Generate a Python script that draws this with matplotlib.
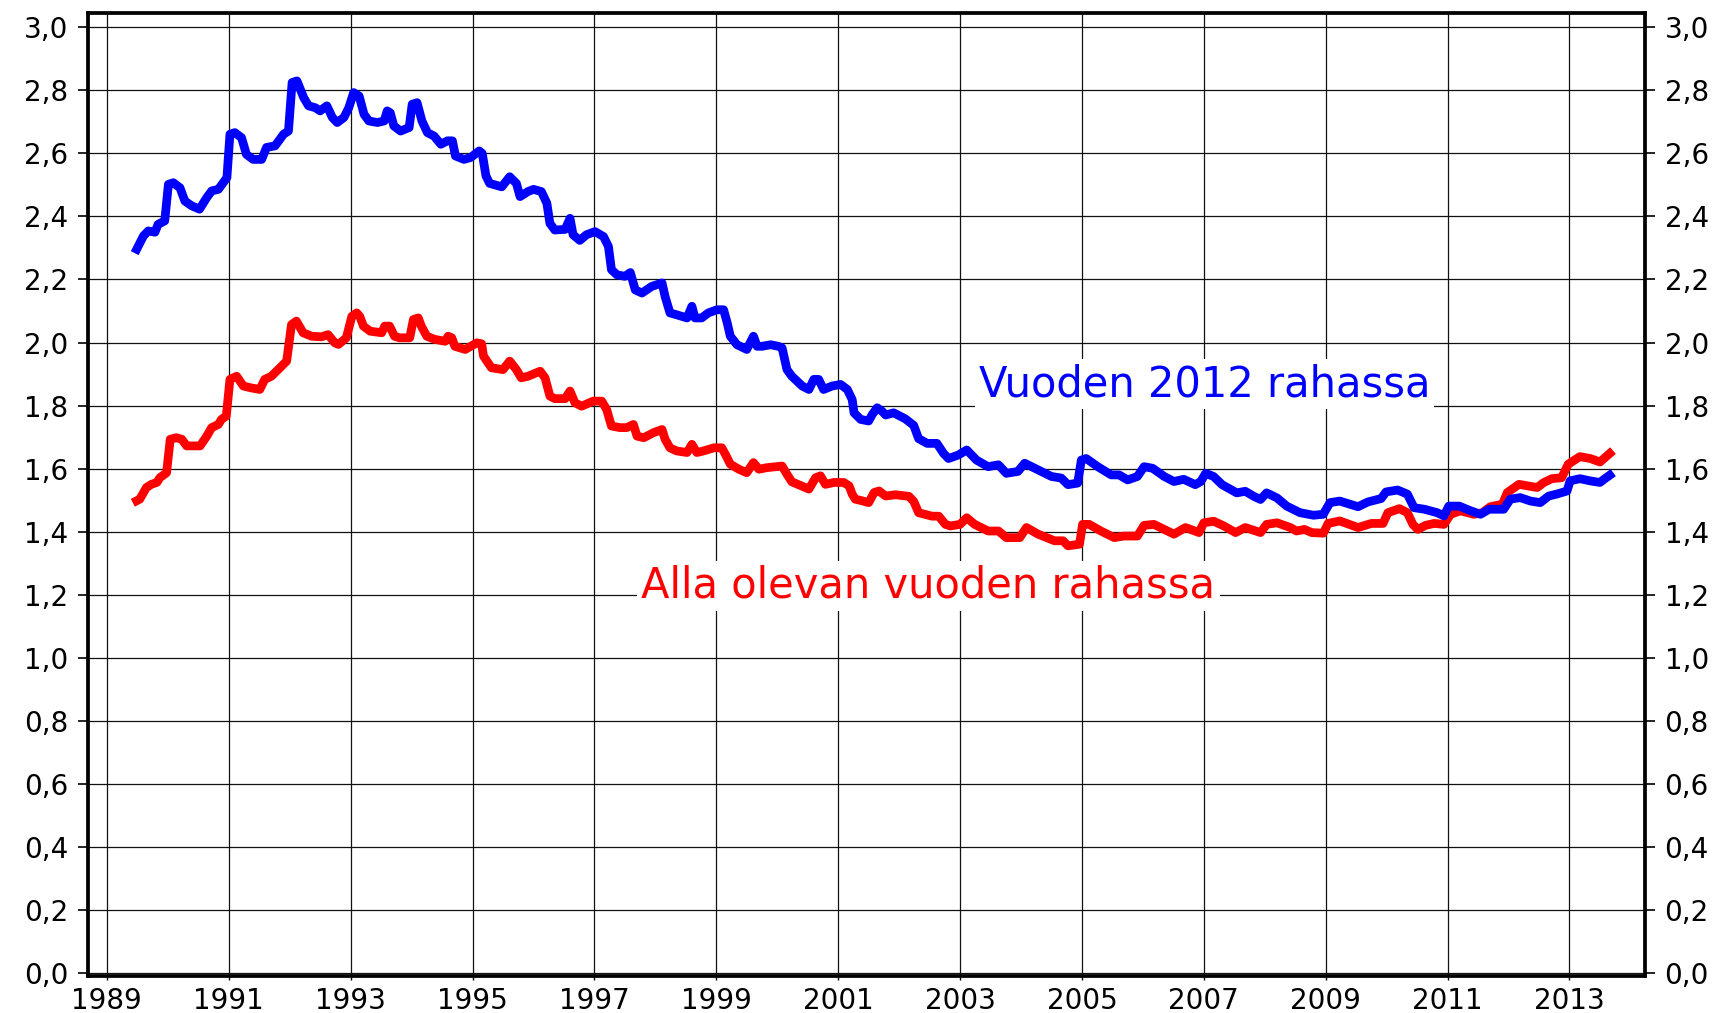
import matplotlib
matplotlib.use('Agg')
import matplotlib.pyplot as plt
from matplotlib.ticker import FuncFormatter, MultipleLocator

# (year, value)
blue_years = [1989.49, 1989.60, 1989.68, 1989.79, 1989.84, 1989.95, 1990.01, 1990.09, 1990.20, 1990.28,
              1990.39, 1990.52, 1990.64, 1990.72, 1990.83, 1990.97, 1991.02, 1991.10, 1991.21, 1991.29,
              1991.40, 1991.54, 1991.62, 1991.76, 1991.90, 1991.98, 1992.04, 1992.12, 1992.23, 1992.31,
              1992.42, 1992.50, 1992.61, 1992.70, 1992.78, 1992.89, 1992.97, 1993.05, 1993.14, 1993.22,
              1993.30, 1993.44, 1993.55, 1993.60, 1993.65, 1993.71, 1993.82, 1993.96, 1994.01, 1994.09,
              1994.17, 1994.26, 1994.37, 1994.48, 1994.59, 1994.67, 1994.72, 1994.86, 1994.97, 1995.11,
              1995.16, 1995.22, 1995.28, 1995.48, 1995.61, 1995.72, 1995.78, 1995.91, 1996.00, 1996.13,
              1996.22, 1996.27, 1996.35, 1996.52, 1996.60, 1996.65, 1996.76, 1996.87, 1997.01, 1997.15,
              1997.23, 1997.28, 1997.37, 1997.50, 1997.59, 1997.67, 1997.78, 1997.94, 1998.11, 1998.16,
              1998.24, 1998.35, 1998.52, 1998.60, 1998.65, 1998.76, 1998.87, 1999.01, 1999.12, 1999.18,
              1999.23, 1999.34, 1999.50, 1999.61, 1999.67, 1999.75, 1999.89, 2000.02, 2000.08, 2000.16,
              2000.24, 2000.41, 2000.52, 2000.60, 2000.68, 2000.76, 2000.90, 2001.04, 2001.15, 2001.23,
              2001.26, 2001.37, 2001.50, 2001.56, 2001.64, 2001.72, 2001.78, 2001.91, 2002.10, 2002.24,
              2002.32, 2002.46, 2002.62, 2002.73, 2002.81, 2002.97, 2003.11, 2003.27, 2003.46, 2003.63,
              2003.76, 2003.95, 2004.06, 2004.28, 2004.50, 2004.66, 2004.77, 2004.93, 2004.99, 2005.07,
              2005.26, 2005.48, 2005.61, 2005.75, 2005.91, 2006.02, 2006.16, 2006.35, 2006.51, 2006.67,
              2006.86, 2006.95, 2007.03, 2007.16, 2007.30, 2007.54, 2007.68, 2007.82, 2007.93, 2008.03,
              2008.20, 2008.36, 2008.58, 2008.80, 2008.96, 2009.07, 2009.23, 2009.53, 2009.69, 2009.91,
              2009.99, 2010.18, 2010.34, 2010.45, 2010.62, 2010.83, 2010.94, 2011.02, 2011.19, 2011.38,
              2011.54, 2011.68, 2011.92, 2012.03, 2012.19, 2012.36, 2012.52, 2012.66, 2012.79, 2012.96,
              2013.01, 2013.17, 2013.34, 2013.50, 2013.58, 2013.66]
blue_vals = [2.296, 2.338, 2.354, 2.350, 2.375, 2.386, 2.502, 2.507, 2.491, 2.449,
             2.434, 2.423, 2.460, 2.481, 2.486, 2.523, 2.661, 2.666, 2.650, 2.597,
             2.581, 2.581, 2.619, 2.624, 2.661, 2.671, 2.825, 2.830, 2.777, 2.751,
             2.745, 2.735, 2.751, 2.714, 2.698, 2.714, 2.745, 2.793, 2.782, 2.724,
             2.703, 2.698, 2.703, 2.735, 2.729, 2.687, 2.671, 2.682, 2.756, 2.761,
             2.703, 2.666, 2.655, 2.629, 2.640, 2.640, 2.592, 2.581, 2.587, 2.608,
             2.600, 2.529, 2.505, 2.494, 2.526, 2.505, 2.463, 2.479, 2.486, 2.479,
             2.442, 2.378, 2.357, 2.359, 2.394, 2.342, 2.324, 2.342, 2.352, 2.336,
             2.305, 2.231, 2.215, 2.210, 2.222, 2.167, 2.157, 2.178, 2.189, 2.146,
             2.094, 2.088, 2.078, 2.115, 2.078, 2.078, 2.094, 2.104, 2.104, 2.062,
             2.020, 1.993, 1.978, 2.020, 1.988, 1.988, 1.993, 1.988, 1.983, 1.914,
             1.893, 1.862, 1.851, 1.883, 1.883, 1.851, 1.862, 1.867, 1.851, 1.819,
             1.777, 1.756, 1.751, 1.772, 1.793, 1.782, 1.770, 1.777, 1.758, 1.737,
             1.695, 1.680, 1.680, 1.648, 1.632, 1.643, 1.659, 1.627, 1.606, 1.612,
             1.585, 1.591, 1.617, 1.596, 1.575, 1.570, 1.549, 1.554, 1.627, 1.632,
             1.606, 1.580, 1.580, 1.564, 1.575, 1.606, 1.601, 1.575, 1.559, 1.566,
             1.549, 1.559, 1.585, 1.575, 1.549, 1.523, 1.528, 1.512, 1.502, 1.523,
             1.507, 1.481, 1.460, 1.452, 1.455, 1.492, 1.497, 1.479, 1.494, 1.505,
             1.526, 1.532, 1.519, 1.476, 1.471, 1.460, 1.450, 1.481, 1.481, 1.466,
             1.455, 1.471, 1.471, 1.503, 1.508, 1.497, 1.492, 1.513, 1.519, 1.529,
             1.561, 1.568, 1.561, 1.556, 1.568, 1.579]

red_years = [1989.49, 1989.54, 1989.65, 1989.73, 1989.82, 1989.87, 1989.98, 1990.04, 1990.14, 1990.23,
             1990.31, 1990.53, 1990.64, 1990.72, 1990.83, 1990.88, 1990.96, 1991.02, 1991.13, 1991.24,
             1991.37, 1991.51, 1991.59, 1991.70, 1991.81, 1991.95, 1992.03, 1992.11, 1992.22, 1992.36,
             1992.52, 1992.63, 1992.74, 1992.80, 1992.93, 1993.02, 1993.10, 1993.15, 1993.21, 1993.32,
             1993.51, 1993.56, 1993.64, 1993.72, 1993.80, 1993.97, 1994.03, 1994.11, 1994.16, 1994.25,
             1994.38, 1994.55, 1994.60, 1994.66, 1994.71, 1994.88, 1995.07, 1995.15, 1995.18, 1995.31,
             1995.50, 1995.61, 1995.72, 1995.80, 1995.91, 1996.11, 1996.19, 1996.27, 1996.35, 1996.52,
             1996.60, 1996.68, 1996.79, 1996.98, 1997.12, 1997.20, 1997.28, 1997.42, 1997.53, 1997.64,
             1997.70, 1997.81, 1997.97, 1998.11, 1998.16, 1998.24, 1998.35, 1998.52, 1998.60, 1998.68,
             1998.79, 1998.96, 1999.09, 1999.15, 1999.23, 1999.37, 1999.50, 1999.61, 1999.70, 1999.83,
             2000.08, 2000.16, 2000.24, 2000.52, 2000.63, 2000.71, 2000.79, 2000.93, 2001.09, 2001.18,
             2001.23, 2001.28, 2001.39, 2001.50, 2001.59, 2001.67, 2001.78, 2001.94, 2002.16, 2002.24,
             2002.32, 2002.54, 2002.65, 2002.76, 2002.84, 2003.00, 2003.11, 2003.24, 2003.46, 2003.63,
             2003.76, 2003.98, 2004.09, 2004.28, 2004.55, 2004.69, 2004.77, 2004.96, 2005.01, 2005.12,
             2005.31, 2005.53, 2005.69, 2005.91, 2006.02, 2006.18, 2006.35, 2006.51, 2006.70, 2006.92,
             2007.00, 2007.16, 2007.33, 2007.52, 2007.68, 2007.93, 2008.03, 2008.20, 2008.42, 2008.52,
             2008.65, 2008.77, 2008.96, 2009.04, 2009.23, 2009.53, 2009.75, 2009.94, 2010.02, 2010.21,
             2010.34, 2010.43, 2010.51, 2010.64, 2010.78, 2010.94, 2011.05, 2011.21, 2011.43, 2011.57,
             2011.70, 2011.90, 2011.98, 2012.17, 2012.47, 2012.58, 2012.71, 2012.87, 2012.98, 2013.17,
             2013.34, 2013.50, 2013.66]
red_vals = [1.498, 1.503, 1.540, 1.550, 1.556, 1.571, 1.587, 1.693, 1.698, 1.693,
            1.672, 1.672, 1.703, 1.730, 1.740, 1.756, 1.767, 1.883, 1.893, 1.862,
            1.856, 1.851, 1.883, 1.893, 1.914, 1.941, 2.057, 2.068, 2.031, 2.020,
            2.018, 2.025, 1.999, 1.994, 2.015, 2.083, 2.094, 2.083, 2.052, 2.036,
            2.031, 2.052, 2.052, 2.020, 2.015, 2.015, 2.073, 2.078, 2.052, 2.020,
            2.010, 2.004, 2.020, 2.015, 1.988, 1.978, 1.999, 1.996, 1.957, 1.920,
            1.914, 1.941, 1.914, 1.888, 1.893, 1.909, 1.888, 1.830, 1.822, 1.822,
            1.846, 1.809, 1.798, 1.814, 1.814, 1.788, 1.735, 1.730, 1.730, 1.740,
            1.703, 1.698, 1.714, 1.724, 1.693, 1.666, 1.656, 1.651, 1.677, 1.651,
            1.656, 1.666, 1.666, 1.645, 1.614, 1.598, 1.587, 1.619, 1.598, 1.603,
            1.608, 1.582, 1.558, 1.535, 1.571, 1.577, 1.550, 1.556, 1.556, 1.545,
            1.519, 1.503, 1.498, 1.492, 1.524, 1.529, 1.513, 1.517, 1.512, 1.496,
            1.460, 1.449, 1.449, 1.423, 1.418, 1.423, 1.444, 1.423, 1.402, 1.402,
            1.381, 1.381, 1.413, 1.392, 1.371, 1.371, 1.355, 1.360, 1.423, 1.423,
            1.402, 1.381, 1.386, 1.386, 1.420, 1.423, 1.407, 1.392, 1.413, 1.397,
            1.428, 1.433, 1.418, 1.397, 1.413, 1.397, 1.423, 1.428, 1.413, 1.402,
            1.407, 1.397, 1.395, 1.426, 1.434, 1.413, 1.426, 1.426, 1.460, 1.473,
            1.460, 1.423, 1.407, 1.420, 1.426, 1.423, 1.455, 1.466, 1.455, 1.460,
            1.479, 1.487, 1.524, 1.550, 1.540, 1.556, 1.568, 1.571, 1.614, 1.638,
            1.632, 1.621, 1.648]

year_ticks = list(range(1989, 2014, 2))
blue_label = 'Vuoden 2012 rahassa'
red_label = 'Alla olevan vuoden rahassa'

plt.rcParams['font.family'] = 'DejaVu Sans'

fig = plt.figure(figsize=(17.28, 10.13), dpi=100)
ax = fig.add_axes([0.0509, 0.0365, 0.9011, 0.9505])

ax.plot(red_years, red_vals, color='#ff0000', linewidth=6.3, solid_joinstyle='round', zorder=3)
ax.plot(blue_years, blue_vals, color='#0000ff', linewidth=6.3, solid_joinstyle='round', zorder=4)

ax.set_xlim(1988.69, 2014.24)
ax.set_ylim(-0.01, 3.045)
ax.set_xticks(year_ticks)
ax.yaxis.set_major_locator(MultipleLocator(0.2))
ax.yaxis.set_major_formatter(FuncFormatter(lambda v, p: ('%.1f' % v).replace('.', ',')))

ax.grid(True, color='#111111', linewidth=0.9)
ax.set_axisbelow(True)

for s in ax.spines.values():
    s.set_linewidth(2.7)

ax.tick_params(axis='y', which='major', direction='out', length=7, width=1.2,
               labelsize=20, pad=7, right=True, labelright=True)
ax.tick_params(axis='x', which='major', direction='out', length=3, width=1.0,
               labelsize=20, pad=5)

ax.text(2007.01, 1.83, blue_label, color='#0000ff', fontsize=30, ha='center', va='baseline',
        bbox=dict(facecolor='white', edgecolor='none', pad=3), zorder=5)
ax.text(2002.48, 1.19, red_label, color='#ff0000', fontsize=30, ha='center', va='baseline',
        bbox=dict(facecolor='white', edgecolor='none', pad=3), zorder=5)

fig.savefig('out.png', dpi=100)
